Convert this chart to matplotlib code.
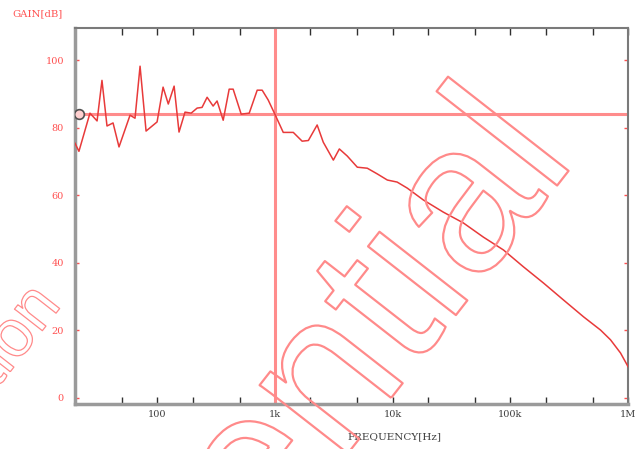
import matplotlib
matplotlib.use('Agg')
import matplotlib.pyplot as plt
import matplotlib.patheffects as pe
from matplotlib.ticker import FixedLocator, FixedFormatter, NullLocator

# frequency response
freq_hz = [20, 21.6, 26.8, 30.8, 33.9, 37.4, 42.1, 47.3, 58.7, 64.7, 71.4, 80.3,
           99.6, 112, 124, 139, 153, 172, 194, 218, 240, 265, 298, 322, 363,
           408, 441, 516, 604, 706, 778, 875, 1000, 1175, 1430, 1700, 1920,
           2280, 2570, 3130, 3520, 4110, 5000, 6080, 7400, 9000, 10900, 13300,
           18200, 26900, 39800, 58900, 87200, 129000, 191000, 282000, 418000,
           582000, 708000, 861000, 1000000]
gain_db = [75.4, 73, 84.3, 82, 94, 80.5, 81.4, 74.3, 83.7, 82.8, 98.2, 79,
           81.7, 92, 87, 92.3, 78.7, 84.6, 84.3, 85.8, 86, 89, 86.4, 87.9, 82.2,
           91.4, 91.4, 84, 84.3, 91.1, 91.1, 88.2, 83.9, 78.6, 78.6, 76, 76.2,
           80.8, 75.7, 70.4, 73.7, 71.6, 68.3, 68, 66.3, 64.5, 63.9, 62.1,
           58.6, 55, 51.8, 47.6, 43.8, 38.8, 34, 29, 24,
           20.1, 17.2, 13.3, 9.2]

cursor_freq = 1000
cursor_gain = 84

x_ticks = [50, 100, 200, 500, 1e3, 2e3, 5e3, 1e4, 2e4, 5e4, 1e5, 2e5, 5e5, 1e6]
x_labels = ['', '100', '', '', '1k', '', '', '10k', '', '', '100k', '', '', '1M']
y_ticks = [0, 20, 40, 60, 80, 100]

red = '#ff5050'
fig = plt.figure(figsize=(6.41, 4.49), dpi=100)
ax = fig.add_axes([0.117, 0.1002, 0.863, 0.8374])

ax.set_xscale('log')
ax.set_xlim(20, 1e6)
ax.set_ylim(-1.8, 109.5)

ax.axhline(cursor_gain, color='#ff8c8c', lw=2.2, zorder=2)
ax.axvline(cursor_freq, color='#ff8c8c', lw=2.2, zorder=2)
ax.plot(freq_hz, gain_db, color='#e83a3a', lw=1.1, zorder=3)
ax.plot([21.6], [cursor_gain], marker='o', ms=7, mfc='#ffd0d0', mec='#505050',
        mew=1.2, zorder=4)

ax.xaxis.set_major_locator(FixedLocator(x_ticks))
ax.xaxis.set_major_formatter(FixedFormatter(x_labels))
ax.xaxis.set_minor_locator(NullLocator())
ax.tick_params(axis='x', which='major', direction='in', length=5, width=1,
               color='#303030', top=True, labelsize=7, labelcolor='#404040', pad=4)
ax.set_yticks(y_ticks)
ax.tick_params(axis='y', direction='in', length=3, width=1, color=red,
               right=True, labelsize=7, labelcolor=red, pad=8)
for lab in ax.get_xticklabels() + ax.get_yticklabels():
    lab.set_family('DejaVu Serif')

for side in ['left', 'bottom']:
    ax.spines[side].set_color('#9a9a9a')
    ax.spines[side].set_linewidth(2.5)
for side in ['top', 'right']:
    ax.spines[side].set_color('#7a7a7a')
    ax.spines[side].set_linewidth(1.5)

fig.text(0.019, 0.97, 'GAIN[dB]', color=red, fontsize=7.3, family='DejaVu Serif',
         va='center', ha='left')
fig.text(0.616, 0.027, 'FREQUENCY[Hz]', color='#404040', fontsize=7.5,
         family='DejaVu Serif', va='center', ha='center')

# outlined watermarks
fig.text(0.901, 0.645, 'Confidential', fontsize=152, family='Liberation Sans',
         color=(1, 1, 1, 0), rotation=52, rotation_mode='anchor',
         ha='right', va='baseline', zorder=10,
         path_effects=[pe.Stroke(linewidth=1.6, foreground='#ff8a8a')])
fig.text(0.097, 0.32, 'Information', fontsize=48, family='Liberation Sans',
         color=(1, 1, 1, 0), rotation=52, rotation_mode='anchor',
         ha='right', va='baseline', zorder=10,
         path_effects=[pe.Stroke(linewidth=0.9, foreground='#ff8a8a')])

fig.savefig('out.png', dpi=100)
